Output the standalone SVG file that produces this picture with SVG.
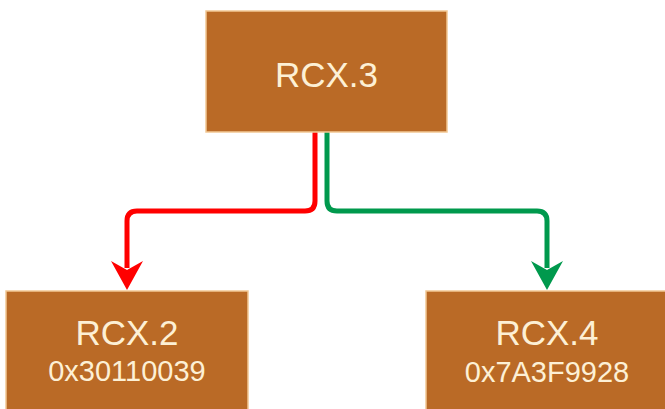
<svg xmlns="http://www.w3.org/2000/svg" width="665" height="409" viewBox="0 0 665 409">
<style>
.box{fill:#BA6A26;stroke:#F2C894;stroke-width:1.5}
.t{font-family:"Liberation Sans",Arial,sans-serif;fill:#FDF0D5;text-anchor:middle}
.big{font-size:35px}
.small{font-size:29px}
.edge{fill:none;stroke-width:5;stroke-linejoin:round}
</style>
<rect width="665" height="409" fill="#ffffff"/>
<g id="connectors">
<path class="edge" stroke="#FF0000" d="M315,132 V201 Q315,211 305,211 H137 Q127,211 127,221 V268"/>
<polygon fill="#FF0000" points="127,290 111,261 127,270 143,261"/>
<path class="edge" stroke="#00994D" d="M327,132 V201 Q327,211 337,211 H537 Q547,211 547,221 V268"/>
<polygon fill="#00994D" points="547,290 531,261 547,270 563,261"/>
</g>
<g id="node-rcx3">
<rect class="box" x="206" y="11" width="241" height="121"/>
<text class="t big" x="326.5" y="87">RCX.3</text>
</g>
<g id="node-rcx2">
<rect class="box" x="6" y="291" width="242" height="130"/>
<text class="t big" x="127" y="345">RCX.2</text>
<text class="t small" x="127" y="381">0x30110039</text>
</g>
<g id="node-rcx4">
<rect class="box" x="426" y="291" width="242" height="130"/>
<text class="t big" x="547" y="345">RCX.4</text>
<text class="t small" x="547" y="382">0x7A3F9928</text>
</g>
</svg>
